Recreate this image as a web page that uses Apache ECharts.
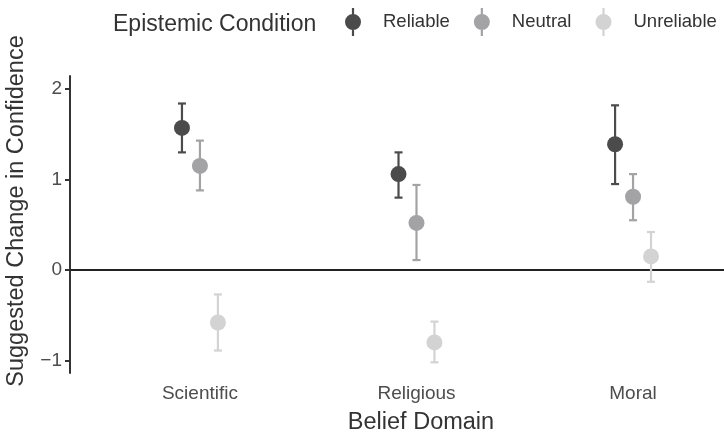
<!DOCTYPE html>
<html>
<head>
<meta charset="utf-8">
<script src="https://cdn.jsdelivr.net/npm/echarts@6/dist/echarts.min.js"></script>
<style>
html,body{margin:0;padding:0;background:#fff;overflow:hidden;}
#chart{width:724px;height:433px;}
</style>
</head>
<body>
<div id="chart"></div>
<script>
const categories = ['Scientific', 'Religious', 'Moral'];
const conditions = ['Reliable', 'Neutral', 'Unreliable'];
const reliableMean = [1.57, 1.06, 1.39];
const reliableLow = [1.30, 0.80, 0.95];
const reliableHigh = [1.84, 1.30, 1.82];
const neutralMean = [1.15, 0.52, 0.81];
const neutralLow = [0.88, 0.11, 0.55];
const neutralHigh = [1.43, 0.94, 1.06];
const unreliableMean = [-0.58, -0.80, 0.15];
const unreliableLow = [-0.89, -1.02, -0.13];
const unreliableHigh = [-0.27, -0.57, 0.42];
const yTicks = [-1, 0, 1, 2];

const means = [reliableMean, neutralMean, unreliableMean];
const lows = [reliableLow, neutralLow, unreliableLow];
const highs = [reliableHigh, neutralHigh, unreliableHigh];
const colors = ['#4b4b4b', '#a3a3a5', '#d3d3d3'];
const dodge = [-0.083, 0, 0.083];
const FONT = 'Liberation Sans, Arial, sans-serif';
const legendIcon = 'path://M8.9,0h2.2v28h-2.2z M10,6a8,8 0 1,1 -0.01,0z';

const series = [];
conditions.forEach((name, ci) => {
  series.push({
    name: name,
    type: 'custom',
    renderItem: function (params, api) {
      const x = api.value(0);
      const lo = api.coord([x, api.value(1)]);
      const hi = api.coord([x, api.value(2)]);
      const cw = 4;
      const style = { stroke: colors[ci], lineWidth: 2.2, fill: null };
      return {
        type: 'group',
        children: [
          { type: 'line', shape: { x1: lo[0], y1: lo[1], x2: hi[0], y2: hi[1] }, style: style },
          { type: 'line', shape: { x1: lo[0] - cw, y1: lo[1], x2: lo[0] + cw, y2: lo[1] }, style: style },
          { type: 'line', shape: { x1: hi[0] - cw, y1: hi[1], x2: hi[0] + cw, y2: hi[1] }, style: style }
        ]
      };
    },
    itemStyle: { color: colors[ci] },
    encode: { x: 0, y: [1, 2] },
    data: categories.map((c, i) => [i + 1 + dodge[ci], lows[ci][i], highs[ci][i]]),
    z: 3
  });
  series.push({
    name: name,
    type: 'scatter',
    symbol: 'circle',
    symbolSize: 16,
    itemStyle: { color: colors[ci], opacity: 1 },
    data: categories.map((c, i) => [i + 1 + dodge[ci], means[ci][i]]),
    z: 4,
    markLine: ci === 0 ? {
      silent: true,
      symbol: 'none',
      label: { show: false },
      lineStyle: { color: '#222', width: 2, type: 'solid' },
      data: [{ yAxis: 0 }],
      z: 1
    } : undefined
  });
});

const chart = echarts.init(document.getElementById('chart'), null, { renderer: 'canvas' });
chart.setOption({
  animation: false,
  backgroundColor: '#fff',
  textStyle: { fontFamily: FONT },
  graphic: [
    {
      type: 'text', left: 113, top: 13,
      style: { text: 'Epistemic Condition', fontFamily: FONT, fontSize: 23, fill: '#333' }
    },
    {
      type: 'text', x: 421, y: 423,
      style: { text: 'Belief Domain', fontFamily: FONT, fontSize: 23.5, fill: '#333', align: 'center', verticalAlign: 'middle' }
    },
    {
      type: 'text', x: 17, y: 211, rotation: Math.PI / 2,
      style: { text: 'Suggested Change in Confidence', fontFamily: FONT, fontSize: 23.5, fill: '#333', align: 'center', verticalAlign: 'middle' }
    }
  ],
  legend: {
    data: conditions.map(n => ({ name: n, icon: legendIcon })),
    left: 345, top: 8, padding: 0,
    itemWidth: 16, itemHeight: 28,
    itemGap: 24,
    textStyle: { fontFamily: FONT, fontSize: 18.5, color: '#333', padding: [4, 0, 0, 17] }
  },
  grid: { left: 70, right: 0, top: 76, bottom: 60, containLabel: false },
  xAxis: {
    type: 'value',
    min: 0.4, max: 3.42,
    axisLine: { show: false },
    axisTick: { show: false },
    splitLine: { show: false },
    axisLabel: {
      customValues: [1, 2, 3],
      formatter: v => categories[Math.round(v) - 1],
      fontFamily: FONT, fontSize: 19, color: '#4d4d4d', margin: 11
    }
  },
  yAxis: {
    type: 'value',
    min: -1.138, max: 2.144,
    axisLine: { show: true, lineStyle: { color: '#333', width: 2 } },
    axisTick: { show: true, customValues: yTicks, length: 5, lineStyle: { color: '#333', width: 2 } },
    splitLine: { show: false },
    axisLabel: {
      customValues: yTicks,
      formatter: v => (v < 0 ? '\u2212' + Math.abs(v) : String(v)),
      fontFamily: FONT, fontSize: 19, color: '#4d4d4d', margin: 8
    }
  },
  series: series
});
</script>
</body>
</html>
